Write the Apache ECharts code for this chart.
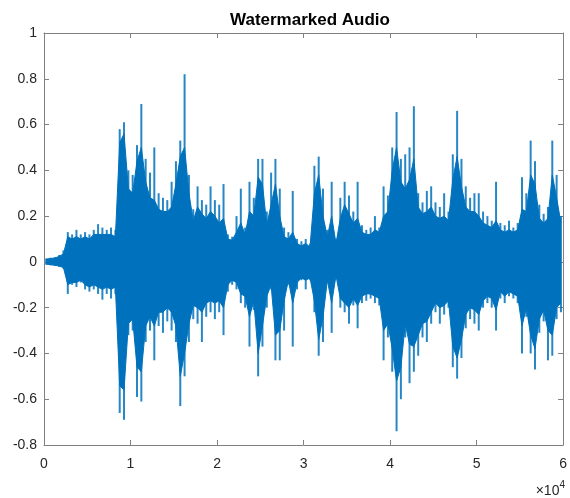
<!DOCTYPE html>
<html>
<head>
<meta charset="utf-8">
<script src="https://cdn.jsdelivr.net/npm/echarts@6/dist/echarts.min.js"></script>
<style>
html,body{margin:0;padding:0;background:#fff;}
#chart{width:570px;height:498px;}
</style>
</head>
<body>
<div id="chart"></div>
<script>
// Audio waveform: 120 bins of 500 samples each.
// envMax/envMin: tips of the spikes in each bin; coreMax/coreMin: the dense solid band.
const binSize = 500;
const envMax = [
  0.015, 0.018, 0.02, 0.03, 0.05, 0.13, 0.12, 0.14, 0.12, 0.13,
  0.12, 0.14, 0.165, 0.15, 0.14, 0.15, 0.14, 0.58, 0.61, 0.40,
  0.38, 0.51, 0.69, 0.45, 0.39, 0.50, 0.30, 0.28, 0.27, 0.35,
  0.44, 0.53, 0.82, 0.38, 0.23, 0.33, 0.27, 0.25, 0.33, 0.27,
  0.25, 0.34, 0.12, 0.11, 0.20, 0.32, 0.15, 0.35, 0.28, 0.45,
  0.45, 0.22, 0.39, 0.45, 0.32, 0.15, 0.13, 0.31, 0.10, 0.09,
  0.10, 0.08, 0.42, 0.46, 0.32, 0.14, 0.35, 0.10, 0.28, 0.35,
  0.29, 0.22, 0.35, 0.16, 0.14, 0.15, 0.20, 0.15, 0.33, 0.29,
  0.50, 0.655, 0.45, 0.47, 0.50, 0.68, 0.30, 0.26, 0.31, 0.33,
  0.26, 0.24, 0.30, 0.22, 0.47, 0.66, 0.45, 0.33, 0.28, 0.30,
  0.30, 0.22, 0.20, 0.18, 0.35, 0.17, 0.16, 0.18, 0.15, 0.17,
  0.37, 0.30, 0.53, 0.44, 0.25, 0.21, 0.24, 0.53, 0.38, 0.20
];
const envMin = [
  -0.012, -0.015, -0.018, -0.022, -0.03, -0.14, -0.10, -0.11, -0.09, -0.12,
  -0.13, -0.12, -0.14, -0.165, -0.14, -0.16, -0.14, -0.66, -0.69, -0.32,
  -0.30, -0.59, -0.61, -0.35, -0.30, -0.43, -0.28, -0.31, -0.26, -0.30,
  -0.35, -0.63, -0.50, -0.35, -0.25, -0.27, -0.35, -0.24, -0.22, -0.25,
  -0.22, -0.32, -0.13, -0.10, -0.12, -0.18, -0.20, -0.37, -0.21, -0.50,
  -0.37, -0.20, -0.12, -0.43, -0.43, -0.30, -0.10, -0.37, -0.12, -0.08,
  -0.12, -0.08, -0.22, -0.41, -0.35, -0.09, -0.31, -0.07, -0.20, -0.22,
  -0.27, -0.19, -0.29, -0.18, -0.17, -0.16, -0.18, -0.19, -0.43, -0.33,
  -0.48, -0.74, -0.60, -0.33, -0.53, -0.48, -0.41, -0.33, -0.35, -0.27,
  -0.22, -0.27, -0.23, -0.20, -0.46, -0.51, -0.42, -0.29, -0.25, -0.27,
  -0.30, -0.20, -0.18, -0.20, -0.30, -0.16, -0.18, -0.15, -0.16, -0.18,
  -0.40, -0.24, -0.40, -0.47, -0.31, -0.26, -0.43, -0.41, -0.25, -0.22
];
const coreMax = [
  0.012, 0.015, 0.017, 0.024, 0.035, 0.11, 0.10, 0.11, 0.10, 0.11,
  0.10, 0.12, 0.12, 0.12, 0.12, 0.12, 0.11, 0.52, 0.56, 0.32,
  0.30, 0.44, 0.50, 0.35, 0.28, 0.27, 0.23, 0.22, 0.22, 0.24,
  0.34, 0.46, 0.50, 0.30, 0.18, 0.24, 0.21, 0.19, 0.22, 0.20,
  0.17, 0.19, 0.10, 0.095, 0.13, 0.17, 0.12, 0.22, 0.20, 0.37,
  0.34, 0.16, 0.25, 0.34, 0.20, 0.11, 0.10, 0.13, 0.08, 0.07,
  0.08, 0.065, 0.30, 0.38, 0.20, 0.11, 0.20, 0.08, 0.19, 0.25,
  0.21, 0.17, 0.19, 0.13, 0.12, 0.12, 0.14, 0.13, 0.20, 0.22,
  0.40, 0.50, 0.35, 0.32, 0.36, 0.45, 0.24, 0.21, 0.22, 0.24,
  0.20, 0.19, 0.20, 0.18, 0.36, 0.46, 0.33, 0.24, 0.22, 0.22,
  0.20, 0.17, 0.16, 0.15, 0.18, 0.14, 0.13, 0.14, 0.13, 0.14,
  0.23, 0.22, 0.38, 0.34, 0.19, 0.17, 0.19, 0.38, 0.28, 0.17
];
const coreMin = [
  -0.010, -0.012, -0.015, -0.018, -0.025, -0.10, -0.09, -0.09, -0.08, -0.10,
  -0.11, -0.10, -0.11, -0.12, -0.11, -0.12, -0.11, -0.54, -0.56, -0.27,
  -0.25, -0.46, -0.48, -0.28, -0.24, -0.28, -0.22, -0.22, -0.20, -0.22,
  -0.28, -0.50, -0.40, -0.27, -0.19, -0.20, -0.22, -0.18, -0.17, -0.18,
  -0.17, -0.20, -0.10, -0.08, -0.09, -0.14, -0.15, -0.24, -0.17, -0.40,
  -0.28, -0.15, -0.10, -0.32, -0.30, -0.17, -0.08, -0.18, -0.09, -0.07,
  -0.08, -0.07, -0.17, -0.34, -0.24, -0.08, -0.18, -0.06, -0.16, -0.18,
  -0.20, -0.16, -0.19, -0.15, -0.14, -0.14, -0.15, -0.16, -0.30, -0.27,
  -0.38, -0.52, -0.46, -0.27, -0.36, -0.37, -0.32, -0.27, -0.26, -0.22,
  -0.18, -0.20, -0.19, -0.17, -0.37, -0.42, -0.34, -0.23, -0.20, -0.21,
  -0.23, -0.17, -0.15, -0.16, -0.21, -0.13, -0.15, -0.13, -0.14, -0.15,
  -0.28, -0.20, -0.32, -0.38, -0.25, -0.21, -0.30, -0.32, -0.20, -0.18
];
const xTickValues = [0, 1, 2, 3, 4, 5, 6];      // ×10^4
const yTickValues = [-0.8, -0.6, -0.4, -0.2, 0, 0.2, 0.4, 0.6, 0.8, 1];
const titleText = 'Watermarked Audio';
const xScaleText = '×10';
const xScaleExp = '4';

const xScale = 10000;
function binned(arr) {
  return arr.map((v, i) => [i * binSize + binSize / 2, v]);
}

const waveColor = '#0072BD';
const axisColor = '#808080';
const textColor = '#262626';
const fontFamily = '"Liberation Sans", Arial, Helvetica, sans-serif';

const chart = echarts.init(document.getElementById('chart'), null, {renderer: 'canvas'});
const yInterval = yTickValues[1] - yTickValues[0];
const xMin = xTickValues[0] * xScale, xMax = xTickValues[xTickValues.length - 1] * xScale;
const xInterval = (xTickValues[1] - xTickValues[0]) * xScale;

const commonX = {
  type: 'value', min: xMin, max: xMax, interval: xInterval,
  axisLine: {show: true, onZero: false, lineStyle: {color: axisColor, width: 1}},
  axisTick: {show: true, inside: true, length: 5, lineStyle: {color: axisColor}},
  splitLine: {show: false}
};
const commonY = {
  type: 'value', min: yTickValues[0], max: yTickValues[yTickValues.length - 1], interval: yInterval,
  axisLine: {show: true, onZero: false, lineStyle: {color: axisColor, width: 1}},
  axisTick: {show: true, inside: true, length: 5, lineStyle: {color: axisColor}},
  splitLine: {show: false}
};

function coreSeries(data) {
  return {
    type: 'line', xAxisIndex: 0, yAxisIndex: 0,
    data: data, showSymbol: false, symbol: 'none', sampling: 'none',
    lineStyle: {color: waveColor, width: 1},
    areaStyle: {color: waveColor, opacity: 1, origin: 0},
    itemStyle: {color: waveColor},
    clip: true, z: 2
  };
}
function spikeSeries(data) {
  return {
    type: 'bar', xAxisIndex: 0, yAxisIndex: 0,
    data: data, barWidth: 2, barGap: '-100%',
    itemStyle: {color: waveColor, opacity: 0.85},
    clip: true, z: 1
  };
}

chart.setOption({
  animation: false,
  backgroundColor: '#ffffff',
  title: {
    text: titleText, left: 305, top: 7, textAlign: 'center',
    textStyle: {fontFamily: fontFamily, fontSize: 17, fontWeight: 'bold', color: '#000'}
  },
  grid: {left: 44, right: 4, top: 33, bottom: 53, containLabel: false},
  xAxis: [
    Object.assign({}, commonX, {
      position: 'bottom',
      axisLabel: {show: true, margin: 12, color: textColor, fontSize: 14, fontFamily: fontFamily,
        formatter: v => String(Math.round(v / xScale))}
    }),
    Object.assign({}, commonX, {position: 'top', axisLabel: {show: false}})
  ],
  yAxis: [
    Object.assign({}, commonY, {
      position: 'left',
      axisLabel: {show: true, margin: 7, color: textColor, fontSize: 14, fontFamily: fontFamily,
        formatter: v => String(Number(v.toFixed(1)))}
    }),
    Object.assign({}, commonY, {position: 'right', axisLabel: {show: false}})
  ],
  graphic: [{
    type: 'text', right: 5, top: 480,
    style: {
      text: '{b|' + xScaleText + '}{s|' + xScaleExp + '}',
      rich: {
        b: {fontSize: 14, fontFamily: fontFamily, fill: textColor, color: textColor, verticalAlign: 'bottom', lineHeight: 18},
        s: {fontSize: 10, fontFamily: fontFamily, fill: textColor, color: textColor, verticalAlign: 'top', lineHeight: 10}
      }
    }
  }],
  series: [
    spikeSeries(binned(envMax)), spikeSeries(binned(envMin)),
    coreSeries(binned(coreMax)), coreSeries(binned(coreMin))
  ]
});
</script>
</body>
</html>
